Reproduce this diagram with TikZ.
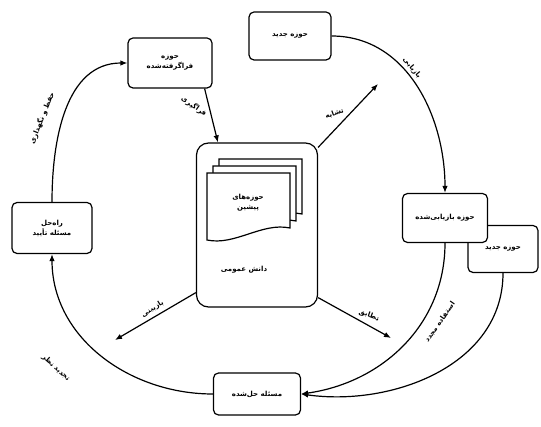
\documentclass[tikz,border=0pt]{standalone}
\usepackage{fontspec}
\newfontfamily\fa[Script=Arabic]{DejaVu Sans}
\TeXXeTstate=1
\usetikzlibrary{arrows.meta,positioning}
\newcommand{\rl}[1]{\beginR#1\endR}

\begin{document}
\begin{tikzpicture}[x=1pt,y=-1pt,line width=1.2pt,
  every node/.style={font=\fa\bfseries\fontsize{7}{10}\selectfont,align=center},
  box/.style={draw,rounded corners=5pt,fill=white,inner sep=0pt},
  arr/.style={-{Latex[length=7pt,width=5.5pt]}},
  lbl/.style={inner sep=1pt}]
\useasboundingbox (0,0) rectangle (541,427);
% cases
\node[box,minimum width=84pt,minimum height=50pt] (learned) at (170,63) {\rl{حوزه}\\\rl{فراگرفته‌شده}};
\node[box,minimum width=82pt,minimum height=48pt] (newcase) at (290,36) {\rl{حوزه جدید}};
\node[box,minimum width=80pt,minimum height=51pt] (tested) at (52,228) {\rl{راه‌حل}\\\rl{مسئله تأیید}};
\node[box,minimum width=70pt,minimum height=47pt] (newcase2) at (503,249) {\rl{حوزه جدید}};
\node[box,minimum width=85pt,minimum height=49pt] (retrieved) at (445,218) {\rl{حوزه بازیابی‌شده}};
\node[box,minimum width=87pt,minimum height=42pt] (solved) at (257,394) {\rl{مسئله حل‌شده}};
% case base
\node[box,rounded corners=12pt,minimum width=121pt,minimum height=164pt] (mem) at (257,225) {};
\foreach \i in {2,1,0}
  \draw[fill=white,shift={(6*\i,-7*\i)}] (207,240) -- (207,173) -- (290,173) -- (290,228)
    .. controls (262,222) and (235,246) .. cycle;
\node (prev) at (248,203) {\rl{حوزه‌های}\\\rl{پیشین}};
\node (know) at (244,270) {\rl{دانش عمومی}};
% cycle
\draw[arr] (newcase.east) to[out=0,in=90] (retrieved.north);
\node[lbl,rotate=-50] (retlbl) at (412,68) {\rl{بازیابی}};
\draw[arr] (retrieved.south) to[out=-90,in=8] (solved.east);
\draw[arr] (newcase2.south) to[out=-90,in=-8] (solved.east);
\node[lbl,rotate=55] (reuse) at (440,322) {\rl{استفاده مجدد}};
\draw[arr] (solved.west) to[out=180,in=-90] (tested.south);
\node[lbl,rotate=-42] (revise) at (56,368) {\rl{تجدید نظر}};
\draw[arr] (tested.north) to[out=90,in=180] (learned.west);
\node[lbl,rotate=68] (retain) at (42,118) {\rl{حفظ و نگهداری}};
% links to case base
\coordinate (simtip) at (378,84);
\coordinate (revtip) at (115,340);
\coordinate (adatip) at (391,338);
\draw[arr] ([xshift=-8pt]learned.south east) -- node[lbl,left=4pt,rotate=-35]{\rl{فراگیری}} ([xshift=22pt]mem.north west);
\draw[arr] ([yshift=-5pt]mem.north east) -- node[lbl,above left=2pt,rotate=20]{\rl{تشابه}} (simtip);
\draw[arr] ([yshift=15pt]mem.south west) -- node[lbl,above=3pt,rotate=32]{\rl{بازبینی}} (revtip);
\draw[arr] ([yshift=10pt]mem.south east) -- node[lbl,above right=2pt,rotate=-20]{\rl{تطابق}} (adatip);
\end{tikzpicture}
\end{document}
